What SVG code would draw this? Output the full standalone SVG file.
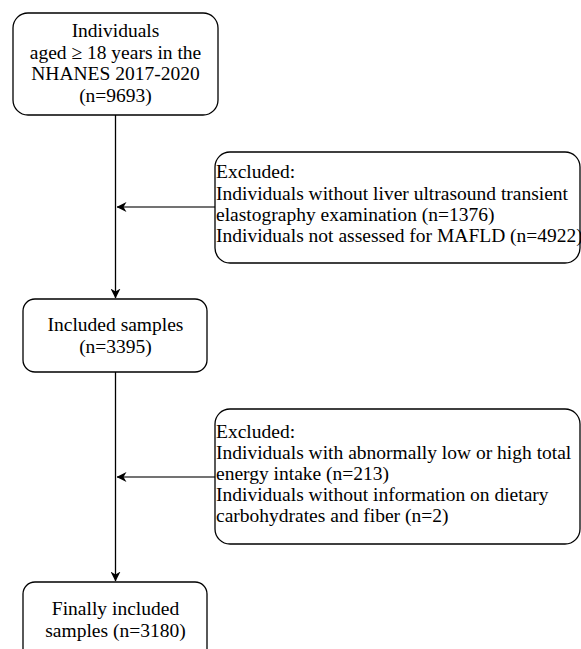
<svg xmlns="http://www.w3.org/2000/svg" width="581" height="649" viewBox="0 0 581 649">
<defs>
<marker id="ah" viewBox="0 0 10 10" refX="9.5" refY="5" markerWidth="10" markerHeight="10" markerUnits="userSpaceOnUse" orient="auto">
<path d="M0,0 L10,5 L0,10 L3,5 Z" fill="#000"/>
</marker>
</defs>
<rect width="581" height="649" fill="#fff"/>
<g id="connectors" fill="none">
<line stroke="#000" stroke-width="1.3" x1="115.5" y1="115" x2="115.5" y2="298" marker-end="url(#ah)"/>
<line stroke="#000" stroke-width="1.3" x1="115.5" y1="372" x2="115.5" y2="581" marker-end="url(#ah)"/>
<line stroke="#444" stroke-width="1.6" x1="215" y1="207" x2="117" y2="207" marker-end="url(#ah)"/>
<line stroke="#444" stroke-width="1.6" x1="215" y1="477" x2="117" y2="477" marker-end="url(#ah)"/>
</g>
<g id="n1">
<rect fill="#fff" stroke="#000" stroke-width="1.3" x="13" y="13" width="205" height="102" rx="15"/>
<text font-family="Liberation Serif" font-size="19.5" text-anchor="middle"><tspan font-family="Liberation Serif" style="font-family:'Liberation Serif',Tinos,serif" x="115.5" y="37">Individuals</tspan><tspan font-family="Liberation Serif" style="font-family:'Liberation Serif',Tinos,serif" x="115.5" y="58.5">aged ≥ 18 years in the</tspan><tspan font-family="Liberation Serif" style="font-family:'Liberation Serif',Tinos,serif" x="115.5" y="80">NHANES 2017-2020</tspan><tspan font-family="Liberation Serif" style="font-family:'Liberation Serif',Tinos,serif" x="115.5" y="101.5">(n=9693)</tspan></text>
</g>
<g id="n2">
<rect fill="#fff" stroke="#000" stroke-width="1.3" x="215" y="152" width="365" height="111" rx="15"/>
<text font-family="Liberation Serif" font-size="19.5"><tspan font-family="Liberation Serif" style="font-family:'Liberation Serif',Tinos,serif" x="216" y="178">Excluded:</tspan><tspan font-family="Liberation Serif" style="font-family:'Liberation Serif',Tinos,serif" x="216" y="199.5">Individuals without liver ultrasound transient</tspan><tspan font-family="Liberation Serif" style="font-family:'Liberation Serif',Tinos,serif" x="216" y="221">elastography examination (n=1376)</tspan><tspan font-family="Liberation Serif" style="font-family:'Liberation Serif',Tinos,serif" x="216" y="242">Individuals not assessed for MAFLD (n=4922)</tspan></text>
</g>
<g id="n3">
<rect fill="#fff" stroke="#000" stroke-width="1.3" x="23" y="299" width="184" height="73" rx="12"/>
<text font-family="Liberation Serif" font-size="19.5" text-anchor="middle"><tspan font-family="Liberation Serif" style="font-family:'Liberation Serif',Tinos,serif" x="115.5" y="331">Included samples</tspan><tspan font-family="Liberation Serif" style="font-family:'Liberation Serif',Tinos,serif" x="115.5" y="353">(n=3395)</tspan></text>
</g>
<g id="n4">
<rect fill="#fff" stroke="#000" stroke-width="1.3" x="215" y="409" width="365" height="135" rx="15"/>
<text font-family="Liberation Serif" font-size="19.5"><tspan font-family="Liberation Serif" style="font-family:'Liberation Serif',Tinos,serif" x="216" y="437.5">Excluded:</tspan><tspan font-family="Liberation Serif" style="font-family:'Liberation Serif',Tinos,serif" x="216" y="459">Individuals with abnormally low or high total</tspan><tspan font-family="Liberation Serif" style="font-family:'Liberation Serif',Tinos,serif" x="216" y="480">energy intake (n=213)</tspan><tspan font-family="Liberation Serif" style="font-family:'Liberation Serif',Tinos,serif" x="216" y="501">Individuals without information on dietary</tspan><tspan font-family="Liberation Serif" style="font-family:'Liberation Serif',Tinos,serif" x="216" y="522">carbohydrates and fiber (n=2)</tspan></text>
</g>
<g id="n5">
<rect fill="#fff" stroke="#000" stroke-width="1.3" x="23" y="582" width="184" height="80" rx="12"/>
<text font-family="Liberation Serif" font-size="19.5" text-anchor="middle"><tspan font-family="Liberation Serif" style="font-family:'Liberation Serif',Tinos,serif" x="115.5" y="615">Finally included</tspan><tspan font-family="Liberation Serif" style="font-family:'Liberation Serif',Tinos,serif" x="115.5" y="637">samples (n=3180)</tspan></text>
</g>
</svg>
